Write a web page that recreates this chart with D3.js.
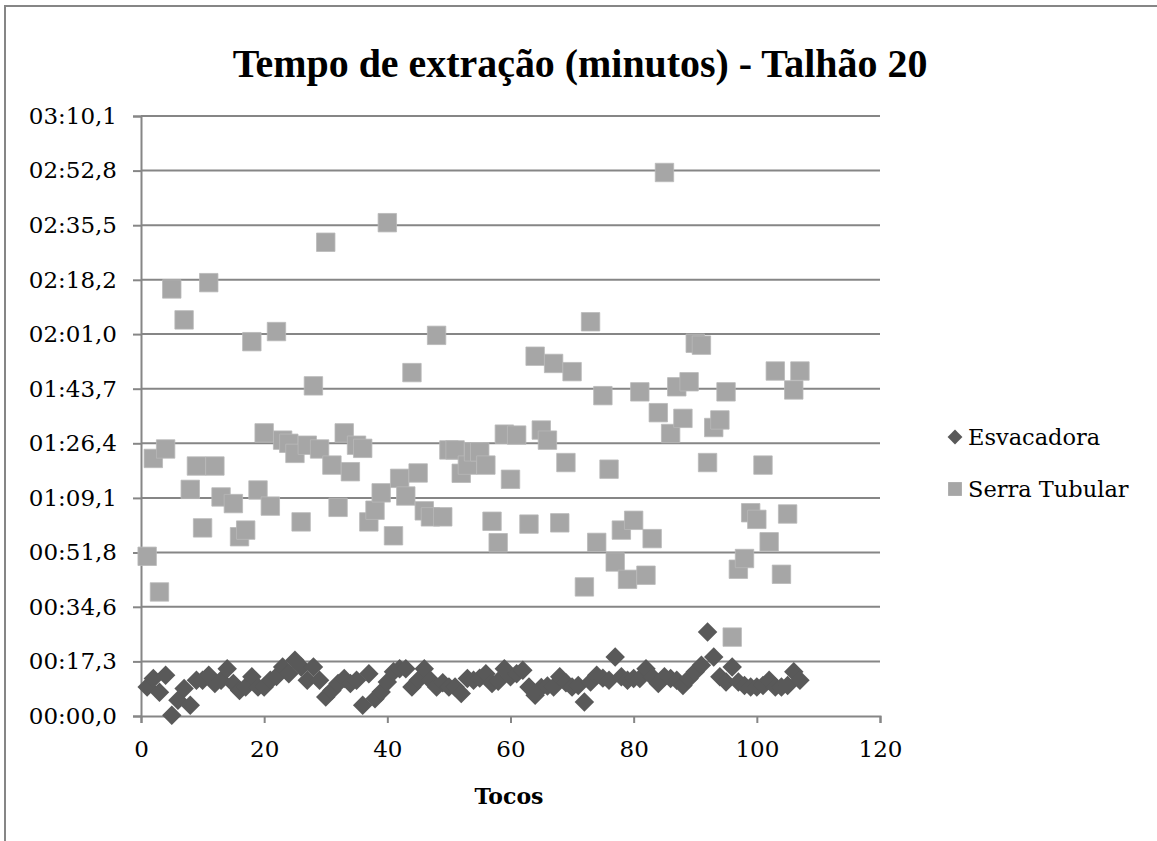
<!DOCTYPE html>
<html>
<head>
<meta charset="utf-8">
<script src="https://cdn.jsdelivr.net/npm/d3@7"></script>
<style>
body { margin: 0; background: #fff; }
</style>
</head>
<body>
<div id="chart"></div>
<script>
// Tocos 1..107
const tocos = [1,2,3,4,5,6,7,8,9,10,11,12,13,14,15,16,17,18,19,20,21,22,23,24,25,26,27,28,29,30,
  31,32,33,34,35,36,37,38,39,40,41,42,43,44,45,46,47,48,49,50,51,52,53,54,55,56,57,58,59,60,
  61,62,63,64,65,66,67,68,69,70,71,72,73,74,75,76,77,78,79,80,81,82,83,84,85,86,87,88,89,90,
  91,92,93,94,95,96,97,98,99,100,101,102,103,104,105,106,107]

// tempo em segundos
const esvacadora = [9.2,11.9,7.5,12.9,0.2,5.0,8.7,3.4,11.3,11.3,12.9,10.3,11.3,15.0,10.3,8.1,9.2,12.4,9.2,9.2,
  11.3,12.5,15.5,13.4,17.7,15.5,11.3,15.5,11.3,6.0,8.1,10.3,11.9,10.3,11.3,3.4,13.4,5.5,7.6,10.8,
  14.0,15.0,15.0,9.2,11.3,15.0,11.3,9.2,10.5,9.2,9.2,7.1,11.9,11.3,12.0,13.4,10.3,11.0,15.0,12.4,
  13.4,14.5,9.2,6.6,9.0,9.5,9.2,12.4,10.5,9.2,9.7,4.4,10.8,12.9,12.0,11.3,18.7,12.4,11.3,11.9,
  11.9,15.0,12.4,10.3,12.4,11.9,11.3,9.7,11.9,14.0,16.1,26.6,18.7,12.4,10.8,15.5,10.8,9.7,9.2,9.2,
  9.7,11.3,9.2,9.2,9.7,14.0,11.3]

const serraTubular = [50.6,81.6,39.3,84.6,135.3,null,125.5,71.8,79.2,59.6,137.3,79.2,69.4,null,67.3,56.8,58.9,118.6,71.6,89.7,
  66.5,121.8,87.4,86.4,83.2,61.5,85.8,104.6,84.6,150.1,79.5,66.1,89.7,77.4,85.8,84.8,61.5,65.2,70.7,156.3,
  57.1,75.3,69.7,108.8,77.0,65.0,63.1,120.6,63.1,84.3,84.3,76.9,79.5,83.7,83.7,79.5,61.7,54.9,89.3,75.0,
  89.0,null,60.8,114.0,90.6,87.4,111.7,61.2,80.3,109.1,null,40.9,124.9,55.0,101.5,78.2,48.8,58.9,43.3,62.0,
  102.7,44.6,56.2,96.1,172.2,89.5,104.3,94.3,105.9,118.1,117.5,80.3,91.4,93.8,102.7,25.0,46.5,49.9,64.4,62.3,
  79.5,55.2,109.3,44.9,64.0,103.3,109.3]

const yTicks = [0, 17.3, 34.6, 51.8, 69.1, 86.4, 103.7, 121.0, 138.2, 155.5, 172.8, 190.1]
const yTickLabels = ["00:00,0","00:17,3","00:34,6","00:51,8","01:09,1","01:26,4","01:43,7","02:01,0","02:18,2","02:35,5","02:52,8","03:10,1"]
const xTicks = [0, 20, 40, 60, 80, 100, 120]

const seriesNames = ["Esvacadora", "Serra Tubular"]
const title = "Tempo de extração (minutos) - Talhão 20"
const xTitle = "Tocos"

const W = 1157, H = 841
const plot = {left: 141, right: 880, top: 116, bottom: 716}
const serif = "'DejaVu Serif', serif"
const gridColor = "#868686"
const darkColor = "#595959", lightColor = "#a6a6a6"

const svg = d3.select("#chart").append("svg")
    .attr("width", W)
    .attr("height", H)
    .style("display", "block")

// moldura do gráfico
svg.append("rect")
    .attr("x", 5).attr("y", 6)
    .attr("width", W + 20).attr("height", H + 20)
    .attr("fill", "#fff")
    .attr("stroke", gridColor)
    .attr("stroke-width", 2)

const x = d3.scaleLinear().domain([0, 120]).range([plot.left, plot.right])
const y = d3.scaleLinear().domain([0, 190.1]).range([plot.bottom, plot.top])

// grade horizontal
svg.append("g")
    .selectAll("line")
    .data(yTicks.slice(1))
    .join("line")
        .attr("x1", plot.left).attr("x2", plot.right)
        .attr("y1", d => y(d)).attr("y2", d => y(d))
        .attr("stroke", gridColor)
        .attr("stroke-width", 2)

// eixo y
const yAxis = svg.append("g")
    .attr("transform", "translate(" + plot.left + ",0)")
    .call(d3.axisLeft(y).tickValues(yTicks).tickSize(8).tickPadding(16)
        .tickFormat((d, i) => yTickLabels[i]))
yAxis.select(".domain").attr("stroke", gridColor).attr("stroke-width", 2)
yAxis.selectAll(".tick line").attr("stroke", gridColor).attr("stroke-width", 2)
yAxis.selectAll(".tick text")
    .attr("fill", "#000")
    .style("font-family", serif)
    .style("font-size", "23px")

// eixo x
const xAxis = svg.append("g")
    .attr("transform", "translate(0," + plot.bottom + ")")
    .call(d3.axisBottom(x).tickValues(xTicks).tickSize(7).tickPadding(18))
xAxis.select(".domain").attr("stroke", gridColor).attr("stroke-width", 2)
xAxis.selectAll(".tick line").attr("stroke", gridColor).attr("stroke-width", 2)
xAxis.selectAll(".tick text")
    .attr("fill", "#000")
    .style("font-family", serif)
    .style("font-size", "23px")

// pontos
const diamond = d3.symbol().type(d3.symbolSquare).size(190)
const square = d3.symbol().type(d3.symbolSquare).size(340)

const esvData = tocos.map((t, i) => ({t: t, v: esvacadora[i]})).filter(d => d.v != null)
const serraData = tocos.map((t, i) => ({t: t, v: serraTubular[i]})).filter(d => d.v != null)

svg.append("g")
    .selectAll("path")
    .data(esvData)
    .join("path")
        .attr("d", diamond)
        .attr("transform", d => "translate(" + x(d.t) + "," + y(d.v) + ") rotate(45)")
        .attr("fill", darkColor)

svg.append("g")
    .selectAll("path")
    .data(serraData)
    .join("path")
        .attr("d", square)
        .attr("transform", d => "translate(" + x(d.t) + "," + y(d.v) + ")")
        .attr("fill", lightColor)
        .attr("stroke", "#b9b9b9")
        .attr("stroke-width", 0.8)

// título
const titleText = svg.append("text")
    .attr("x", 580).attr("y", 77)
    .attr("text-anchor", "middle")
    .style("font-family", "'Liberation Serif', serif")
    .style("font-weight", "bold")
    .style("font-size", "36px")
    .text(title)
const tw = titleText.node().getComputedTextLength()
titleText.style("font-size", (36 * 695 / tw) + "px")

svg.append("text")
    .attr("x", 509).attr("y", 804)
    .attr("text-anchor", "middle")
    .style("font-family", serif)
    .style("font-weight", "bold")
    .style("font-size", "22px")
    .text(xTitle)

// legenda
const legend = svg.append("g").attr("transform", "translate(955,437)")
legend.append("path")
    .attr("d", d3.symbol().type(d3.symbolSquare).size(110))
    .attr("transform", "rotate(45)")
    .attr("fill", darkColor)
legend.append("path")
    .attr("d", d3.symbol().type(d3.symbolSquare).size(190))
    .attr("transform", "translate(0,52)")
    .attr("fill", lightColor)
legend.selectAll("text")
    .data(seriesNames)
    .join("text")
        .attr("x", 13)
        .attr("y", (d, i) => 8 + i * 52)
        .style("font-family", serif)
        .style("font-size", "22.5px")
        .text(d => d)
</script>
</body>
</html>
